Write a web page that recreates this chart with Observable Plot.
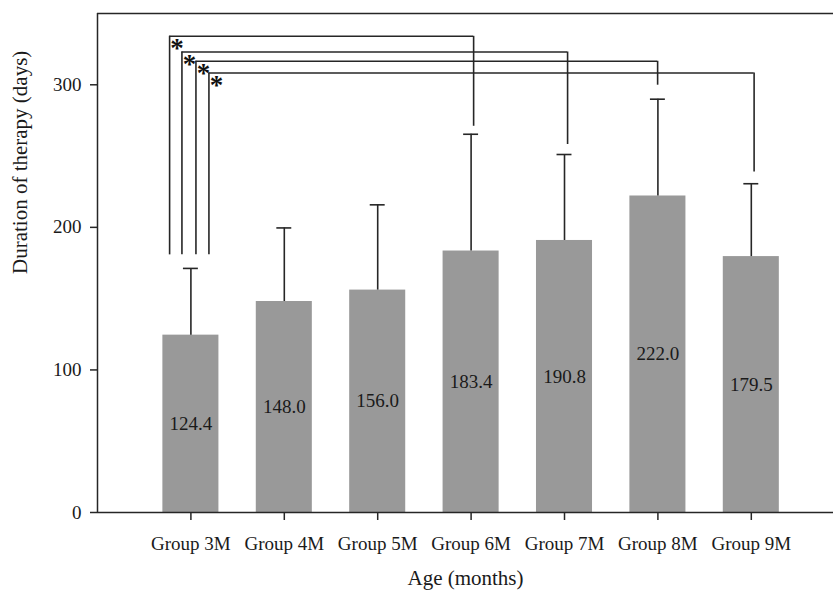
<!DOCTYPE html>
<html>
<head>
<meta charset="utf-8">
<script src="https://cdn.jsdelivr.net/npm/d3@7"></script>
<script src="https://cdn.jsdelivr.net/npm/@observablehq/plot@0.6"></script>
<style>
  html, body { margin: 0; padding: 0; background: #fff; }
  #chart svg { display: block; }
</style>
</head>
<body>
<div id="chart"></div>
<script>
// Categories (x positions 3..9 = age in months)
const groups = ["Group 3M", "Group 4M", "Group 5M", "Group 6M", "Group 7M", "Group 8M", "Group 9M"];
const months = [3, 4, 5, 6, 7, 8, 9];
// Mean duration of therapy (days)
const means = [124.4, 148.0, 156.0, 183.4, 190.8, 222.0, 179.5];
// Upper end of error bars (mean + SD)
const errTop = [171.2, 199.6, 215.8, 265.3, 251.1, 289.9, 230.6];
// Significance brackets from Group 3M to later groups
const bracketTo = [6, 7, 8, 9];
const bracketLeftX = [2.772, 2.904, 3.054, 3.193];
const bracketRightX = [6.027, 7.033, 7.997, 9.03];
const bracketTopY = [334, 323, 316.5, 308.3];
const bracketLeftBottomY = [180.7, 180.7, 180.7, 180.7];
const bracketRightBottomY = [270.9, 258.1, 299.7, 238.9];
const yTicks = [0, 100, 200, 300];

const bars = groups.map((g, i) => ({g, m: months[i], mean: means[i], top: errTop[i]}));
const brackets = bracketTo.map((t, i) => ({
  x1: bracketLeftX[i], x2: bracketRightX[i], y: bracketTopY[i],
  yl: bracketLeftBottomY[i], yr: bracketRightBottomY[i]
}));

const halfBar = 0.3, halfCap = 0.08;
const ink = "#262626";
const txt = "#1a1a1a";

const chart = Plot.plot({
  width: 833,
  height: 596,
  marginLeft: 97,
  marginRight: 0,
  marginTop: 13,
  marginBottom: 84,
  style: {fontFamily: "'Liberation Serif', 'Times New Roman', serif", fontSize: "19px", color: txt, background: "#fff"},
  x: {domain: [2, 9.88], axis: null},
  y: {domain: [0, 350], axis: null},
  marks: [
    Plot.rectY(bars, {x1: d => d.m - halfBar, x2: d => d.m + halfBar, y1: 0, y2: "mean", fill: "#999999"}),
    Plot.ruleX(bars, {x: "m", y1: "mean", y2: "top", stroke: ink, strokeWidth: 1.6}),
    Plot.ruleY(bars, {y: "top", x1: d => d.m - halfCap, x2: d => d.m + halfCap, stroke: ink, strokeWidth: 1.6}),
    Plot.text(bars, {x: "m", y: d => d.mean / 2, text: d => d.mean.toFixed(1), fontSize: 19, fill: txt}),
    // brackets
    Plot.ruleY(brackets, {y: "y", x1: "x1", x2: "x2", stroke: ink, strokeWidth: 1.6}),
    Plot.ruleX(brackets, {x: "x1", y1: "yl", y2: "y", stroke: ink, strokeWidth: 1.6}),
    Plot.ruleX(brackets, {x: "x2", y1: "yr", y2: "y", stroke: ink, strokeWidth: 1.6}),
    Plot.text(brackets, {x: "x1", y: "y", text: () => "*", fontSize: 27, fontWeight: "bold", dx: 7.5, dy: 12, fill: "#111"}),
    // frame lines
    Plot.ruleY([0, 350], {stroke: ink, strokeWidth: 1.5}),
    Plot.ruleX([2], {y1: 0, y2: 350, stroke: ink, strokeWidth: 1.5}),
    // axes
    Plot.axisY({ticks: yTicks, tickSize: 7, tickPadding: 9, label: null, fontSize: 19, stroke: ink, strokeWidth: 1.5, color: txt}),
    Plot.axisX({ticks: months, tickFormat: (d) => groups[months.indexOf(d)], tickSize: 8, tickPadding: 16, label: null, fontSize: 19, stroke: ink, strokeWidth: 1.5, color: txt}),
    Plot.text(["Duration of therapy (days)"], {frameAnchor: "left", rotate: -90, dx: -77, dy: 11, fontSize: 21, fill: txt}),
    Plot.text(["Age (months)"], {frameAnchor: "bottom", dy: 72, fontSize: 21, fill: txt})
  ]
});
document.getElementById("chart").appendChild(chart);
</script>
</body>
</html>
